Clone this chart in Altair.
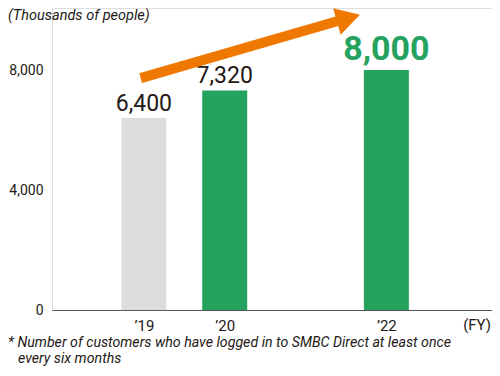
import altair as alt
import pandas as pd

# ---- data ----
years = [2019, 2020, 2022]
values = [6400, 7320, 8000]
bar_colors = ["#DCDDDD", "#24A25E", "#24A25E"]
label_kind = ["normal", "normal", "highlight"]
y_ticks = [0, 4000, 8000]
x_ticks = [2019, 2020, 2022]
unit_label = ["(Thousands of people)"]
fy_label = ["(FY)"]
footnote_lines = ["* Number of customers who have logged in to SMBC Direct at least once",
                  "every six months"]
# growth arrow (annotation) in data space
arrow_x = [2018.96, 2021.41]
arrow_y = [7730, 9640]
head_x = [2021.53]
head_y = [9730]

GREEN = "#24A25E"
ORANGE = "#EE7800"
DARK = "#231815"
FONT = "Roboto"

bars_df = pd.DataFrame({"year": years, "value": values, "color": bar_colors, "kind": label_kind})
arrow_df = pd.DataFrame({"year": arrow_x, "value": arrow_y})
head_df = pd.DataFrame({"year": head_x, "value": head_y})

x_scale = alt.Scale(domain=[2017.925, 2023.245], nice=False, zero=False)

x_enc = alt.X("year:Q", scale=x_scale,
              axis=alt.Axis(values=x_ticks, labelExpr="'\u2019' + substring(toString(datum.value), 2)",
                            title=None, grid=False, ticks=False, domainColor="#595757",
                            domainWidth=1, labelFontSize=15, labelColor=DARK, labelFont=FONT,
                            labelPadding=8))
y_enc = alt.Y("value:Q",
              scale=alt.Scale(domain=[0, 10067], nice=False),
              axis=alt.Axis(values=y_ticks, format=",d", title=None, grid=False, ticks=False,
                            domain=False, labelFontSize=14, labelColor=DARK, labelFont=FONT,
                            labelPadding=9))

bars = alt.Chart(bars_df).mark_bar(size=45).encode(
    x=x_enc, y=y_enc, color=alt.Color("color:N", scale=None)
)

labels_normal = alt.Chart(bars_df).transform_filter("datum.kind == 'normal'").mark_text(
    dy=-7, baseline="alphabetic", fontSize=23, color=DARK, font=FONT
).encode(x=x_enc, y=y_enc, text=alt.Text("value:Q", format=",d"))

labels_high = alt.Chart(bars_df).transform_filter("datum.kind == 'highlight'").mark_text(
    dy=-10, baseline="alphabetic", fontSize=34, fontWeight="bold", color=GREEN, font=FONT
).encode(x=x_enc, y=y_enc, text=alt.Text("value:Q", format=",d"))

arrow_line = alt.Chart(arrow_df).mark_line(color=ORANGE, strokeWidth=10, strokeCap="butt").encode(
    x=x_enc, y=y_enc
)
arrow_head = alt.Chart(head_df).mark_point(
    shape="triangle-right", filled=True, color=ORANGE, opacity=1, size=760, angle=344
).encode(x=x_enc, y=y_enc)

unit_text = alt.Chart(pd.DataFrame({"t": unit_label})).mark_text(
    align="left", baseline="top", fontSize=14.5, fontStyle="italic", color=DARK, font=FONT
).encode(x=alt.value(-44), y=alt.value(1), text="t:N")

fy_text = alt.Chart(pd.DataFrame({"t": fy_label})).mark_text(
    align="right", baseline="top", fontSize=15, color=DARK, font=FONT
).encode(x=alt.value(439), y=alt.value(310), text="t:N")

foot_df = pd.DataFrame({"t": footnote_lines, "px": [-44, -34], "py": [335, 351]})
foot_text = alt.Chart(foot_df).mark_text(
    align="left", baseline="middle", fontSize=14.2, fontStyle="italic", color=DARK, font=FONT
).encode(x=alt.X("px:Q", scale=None), y=alt.Y("py:Q", scale=None), text="t:N")

chart = alt.layer(
    bars, labels_normal, labels_high, arrow_line, arrow_head, unit_text, fy_text, foot_text
).properties(
    width=440, height=302,
    padding={"left": 44, "top": 0, "right": 0, "bottom": 58},
    autosize=alt.AutoSizeParams(type="none"),
).configure_view(stroke=None).configure(background="white")

chart.save("out.html", embed_options={"renderer": "svg", "actions": False})
